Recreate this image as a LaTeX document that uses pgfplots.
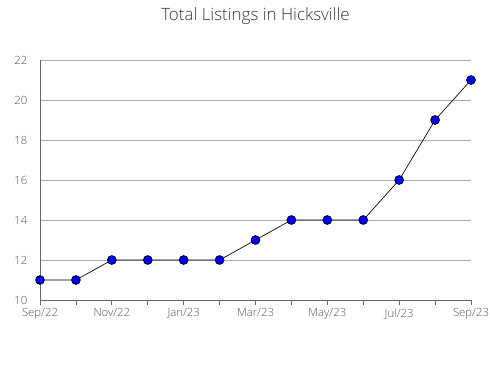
\documentclass[border=0pt]{standalone}
\usepackage{pgfplots}
\pgfplotsset{compat=1.18}
\usepackage{fontspec}
\setmainfont{Open Sans}[UprightFont=* Light]
\definecolor{txt}{HTML}{555555}
\definecolor{ax}{HTML}{666666}
\definecolor{grd}{HTML}{AAAAAA}
\begin{document}
\begin{tikzpicture}
\useasboundingbox (-30pt,-60pt) rectangle (337.5pt,225pt);
\begin{axis}[
  at={(0,0)}, anchor=south west,
  scale only axis, width=323.25pt, height=180pt,
  xmin=0, xmax=12, ymin=10, ymax=22,
  axis x line*=bottom, axis y line*=left,
  axis line style={ax, line width=0.6pt},
  xtick={0,...,12},
  xticklabels={Sep/22,,Nov/22,,Jan/23,,Mar/23,,May/23,,Jul/23,,Sep/23},
  ytick={10,12,...,22},
  major x tick style={ax, line width=0.6pt},
  x tick style={ax},
  tick align=outside,
  major tick length=4pt,
  y tick style={draw=none},
  ymajorgrids, grid style={grd, line width=0.6pt},
  tick label style={font=\fontsize{8.5pt}{10pt}\selectfont, text=txt},
  /pgf/number format/assume math mode=true,
  xticklabel style={yshift=1pt},
  yticklabel style={xshift=-2pt},
  clip=false,
  title={Total Listings in Hicksville},
  title style={font=\fontsize{12.7pt}{15pt}\selectfont, text=black!80, at={(0.5,1)}, yshift=17pt},
]
\addplot[black, line width=0.5pt, mark=*, mark size=3.3pt, mark options={fill=blue, draw=black, line width=0.6pt}]
coordinates {(0,11)(1,11)(2,12)(3,12)(4,12)(5,12)(6,13)(7,14)(8,14)(9,14)(10,16)(11,19)(12,21)};
\end{axis}
\end{tikzpicture}
\end{document}
